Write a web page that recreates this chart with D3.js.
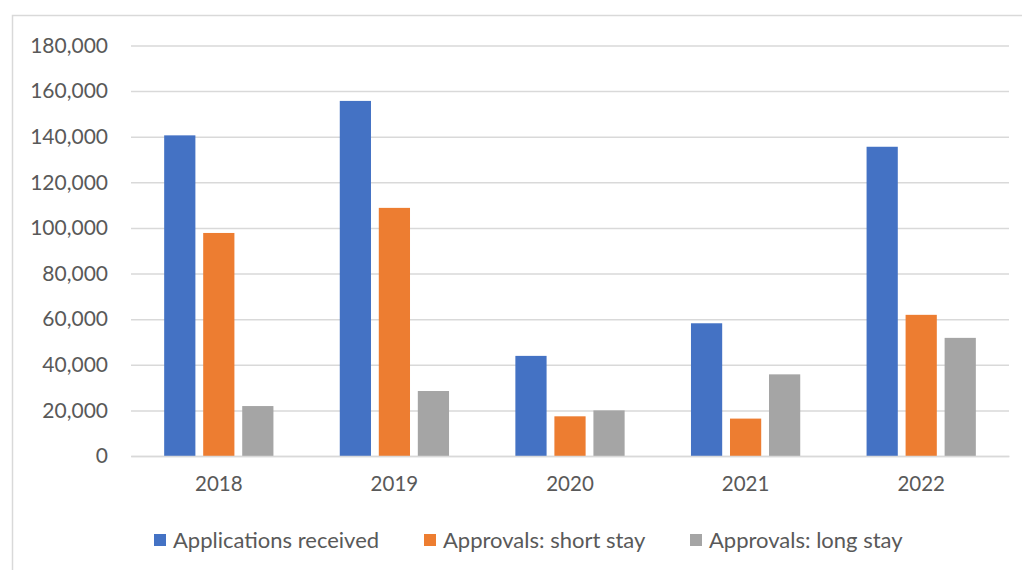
<!DOCTYPE html>
<html>
<head>
<meta charset="utf-8">
<script src="https://cdn.jsdelivr.net/npm/d3@7"></script>
<style>
  html, body { margin: 0; padding: 0; background: #fff; }
  svg { display: block; font-family: Lato, "Open Sans", sans-serif; }
</style>
</head>
<body>
<svg id="chart" width="1022" height="570"></svg>
<script>
// Visa applications and approvals by year
const years = ["2018", "2019", "2020", "2021", "2022"];
const seriesNames = ["Applications received", "Approvals: short stay", "Approvals: long stay"];
const applicationsReceived = [140600, 155700, 43900, 58200, 135600];
const approvalsShortStay = [97800, 108800, 17400, 16400, 61900];
const approvalsLongStay = [21900, 28500, 20000, 35800, 51800];
const yTicks = [0, 20000, 40000, 60000, 80000, 100000, 120000, 140000, 160000, 180000];
const colors = ["#4472C4", "#ED7D31", "#A5A5A5"];

const seriesValues = [applicationsReceived, approvalsShortStay, approvalsLongStay];
const rows = years.map((y, i) => ({ year: y, values: seriesValues.map(s => s[i]) }));

const svg = d3.select("#chart");
const W = 1022, H = 570;
const plot = { left: 131, right: 1009, top: 45.5, bottom: 456 };
const textColor = "#595959";
const gridColor = "#d9d9d9";

// Outer chart frame
svg.append("rect")
  .attr("x", 12.5).attr("y", 15.5)
  .attr("width", W + 10).attr("height", H + 10)
  .attr("fill", "none").attr("stroke", gridColor).attr("stroke-width", 1.5);

const x0 = d3.scaleBand().domain(years).range([plot.left, plot.right]).padding(0);
const x1 = d3.scaleBand().domain(d3.range(3)).range([0, x0.bandwidth()])
  .paddingInner(0.2).paddingOuter(0.85);
const y = d3.scaleLinear().domain([0, 180000]).range([plot.bottom, plot.top]);

// Horizontal gridlines + value labels
const yAxis = d3.axisLeft(y).tickValues(yTicks).tickFormat(d3.format(","))
  .tickSize(-(plot.right - plot.left)).tickPadding(23);
const gy = svg.append("g").attr("transform", `translate(${plot.left},0)`).call(yAxis);
gy.select(".domain").remove();
gy.selectAll(".tick line").attr("stroke", gridColor).attr("stroke-width", 1.5);
gy.selectAll(".tick text").attr("fill", textColor).style("font-size", "21px")
  .style("font-family", "Lato, sans-serif");

// Bars
const groups = svg.append("g").selectAll("g").data(rows).join("g")
  .attr("transform", d => `translate(${x0(d.year)},0)`);
groups.selectAll("rect").data(d => d.values.map((v, i) => ({ v, i }))).join("rect")
  .attr("x", d => x1(d.i))
  .attr("width", x1.bandwidth())
  .attr("y", d => y(d.v))
  .attr("height", d => y(0) - y(d.v))
  .attr("fill", d => colors[d.i]);

// Category axis
const xAxis = d3.axisBottom(x0).tickSize(0).tickPadding(20);
const gx = svg.append("g").attr("transform", `translate(0,${plot.bottom})`).call(xAxis);
gx.select(".domain").attr("stroke", gridColor).attr("stroke-width", 1.5);
gx.selectAll(".tick text").attr("fill", textColor).style("font-size", "20.5px")
  .style("font-family", "Lato, sans-serif");

// Legend
const legendX = [154, 424, 690];
const legend = svg.append("g").selectAll("g").data(seriesNames).join("g")
  .attr("transform", (d, i) => `translate(${legendX[i]},540)`);
legend.append("rect").attr("x", 0).attr("y", -6).attr("width", 12).attr("height", 12)
  .attr("fill", (d, i) => colors[i]);
legend.append("text").attr("x", 19).attr("y", 0).attr("dy", "0.35em")
  .attr("fill", textColor).style("font-size", "22px").text(d => d);
</script>
</body>
</html>
